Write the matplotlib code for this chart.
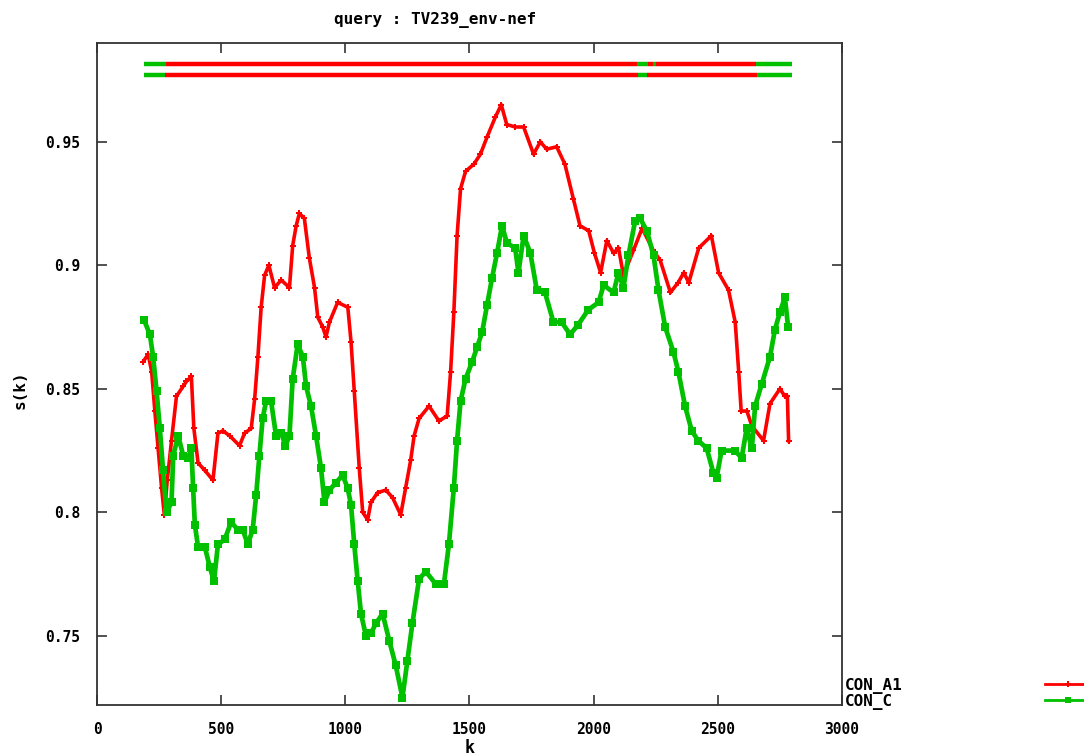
import numpy as np
import matplotlib
matplotlib.use('Agg')
import matplotlib.pyplot as plt
from matplotlib.lines import Line2D

# CON_A1 (red)
k_a1 = [186, 206, 220, 233, 246, 260, 271, 283, 300, 320, 347, 360, 380, 390, 407, 434, 467, 487,
        507, 534, 574, 594, 621, 635, 648, 661, 675, 692, 715, 742, 775, 788, 802, 815, 835, 855,
        876, 889, 909, 922, 936, 969, 1010, 1023, 1036, 1056, 1070, 1090, 1103, 1130, 1163, 1190,
        1223, 1243, 1263, 1277, 1297, 1337, 1377, 1410, 1424, 1437, 1450, 1464, 1484, 1518, 1544,
        1571, 1604, 1628, 1650, 1684, 1718, 1758, 1785, 1811, 1851, 1884, 1918, 1945, 1980, 2003,
        2028, 2053, 2080, 2100, 2120, 2160, 2195, 2240, 2268, 2309, 2340, 2363, 2383, 2423, 2474,
        2503, 2543, 2570, 2584, 2594, 2617, 2637, 2684, 2710, 2750, 2770, 2780, 2785]
s_a1 = [0.861, 0.864, 0.857, 0.841, 0.826, 0.810, 0.799, 0.813, 0.829, 0.847, 0.851, 0.853, 0.855,
        0.834, 0.820, 0.817, 0.813, 0.832, 0.833, 0.831, 0.827, 0.832, 0.834, 0.846, 0.863, 0.883,
        0.896, 0.900, 0.891, 0.894, 0.891, 0.908, 0.916, 0.921, 0.919, 0.903, 0.891, 0.879, 0.875,
        0.871, 0.877, 0.885, 0.883, 0.869, 0.849, 0.818, 0.800, 0.797, 0.804, 0.808, 0.809, 0.806,
        0.799, 0.810, 0.821, 0.831, 0.838, 0.843, 0.837, 0.839, 0.857, 0.881, 0.912, 0.931, 0.938,
        0.941, 0.945, 0.952, 0.960, 0.965, 0.957, 0.956, 0.956, 0.945, 0.950, 0.947, 0.948, 0.941,
        0.927, 0.916, 0.914, 0.905, 0.897, 0.910, 0.905, 0.907, 0.896, 0.906, 0.915, 0.906, 0.902,
        0.889, 0.893, 0.897, 0.893, 0.907, 0.912, 0.897, 0.890, 0.877, 0.857, 0.841, 0.841, 0.835,
        0.829, 0.844, 0.850, 0.847, 0.847, 0.829]

# CON_C (green)
k_c = [189, 213, 226, 240, 253, 266, 280, 300, 307, 327, 347, 367, 380, 387, 394, 407, 434, 454,
       471, 487, 514, 540, 567, 587, 607, 627, 641, 654, 667, 681, 701, 721, 742, 759, 775, 788,
       808, 829, 842, 862, 882, 902, 916, 936, 962, 989, 1009, 1023, 1036, 1050, 1063, 1083, 1103,
       1123, 1150, 1177, 1203, 1230, 1250, 1270, 1297, 1324, 1364, 1397, 1417, 1437, 1450, 1464,
       1484, 1511, 1531, 1551, 1571, 1591, 1611, 1631, 1651, 1684, 1697, 1718, 1745, 1771, 1804,
       1838, 1871, 1905, 1938, 1978, 2020, 2040, 2080, 2100, 2120, 2140, 2167, 2187, 2214, 2241,
       2261, 2288, 2321, 2341, 2368, 2395, 2421, 2455, 2482, 2495, 2515, 2569, 2596, 2616, 2637,
       2650, 2677, 2710, 2730, 2750, 2770, 2783]
s_c = [0.878, 0.872, 0.863, 0.849, 0.834, 0.817, 0.800, 0.804, 0.823, 0.831, 0.823, 0.822, 0.826,
       0.810, 0.795, 0.786, 0.786, 0.778, 0.772, 0.787, 0.789, 0.796, 0.793, 0.793, 0.787, 0.793,
       0.807, 0.823, 0.838, 0.845, 0.845, 0.831, 0.832, 0.827, 0.831, 0.854, 0.868, 0.863, 0.851,
       0.843, 0.831, 0.818, 0.804, 0.809, 0.812, 0.815, 0.810, 0.803, 0.787, 0.772, 0.759, 0.750,
       0.751, 0.755, 0.759, 0.748, 0.738, 0.725, 0.740, 0.755, 0.773, 0.776, 0.771, 0.771, 0.787,
       0.810, 0.829, 0.845, 0.854, 0.861, 0.867, 0.873, 0.884, 0.895, 0.905, 0.916, 0.909, 0.907,
       0.897, 0.912, 0.905, 0.890, 0.889, 0.877, 0.877, 0.872, 0.876, 0.882, 0.885, 0.892, 0.889,
       0.897, 0.891, 0.904, 0.918, 0.919, 0.914, 0.904, 0.890, 0.875, 0.865, 0.857, 0.843, 0.833,
       0.829, 0.826, 0.816, 0.814, 0.825, 0.825, 0.822, 0.834, 0.826, 0.843, 0.852, 0.863, 0.874,
       0.881, 0.887, 0.875]

# subtype bars above the curves
bar_levels = [0.9816, 0.9771]
bar1_edges = [189, 277, 2173, 2217, 2237, 2249, 2655, 2799]
bar1_cols = ['g', 'r', 'g', 'r', 'g', 'r', 'g']
bar2_edges = [189, 273, 2177, 2213, 2659, 2799]
bar2_cols = ['g', 'r', 'g', 'r', 'g']

xticks = [0, 500, 1000, 1500, 2000, 2500, 3000]
yticks = [0.75, 0.8, 0.85, 0.9, 0.95]
ytick_labels = ['0.75', '0.8', '0.85', '0.9', '0.95']

RED = '#ff0000'
GREEN = '#00c000'
colmap = {'r': RED, 'g': GREEN}
font = {'family': 'DejaVu Sans Mono', 'weight': 'bold', 'size': 10.5}
bigfont = {'family': 'DejaVu Sans Mono', 'weight': 'bold', 'size': 11.5}

fig = plt.figure(figsize=(10.84, 7.56), dpi=100)
ax = fig.add_axes([97/1084, 1-705/756, (842-97)/1084, (705-43)/756])

ax.plot(k_a1, s_a1, color=RED, lw=2.6, marker='P', ms=5, mew=0, clip_on=False)
ax.plot(k_c, s_c, color=GREEN, lw=3.4, marker='s', ms=5.5, mew=0, clip_on=False)

for lev, edges, cols in [(bar_levels[0], bar1_edges, bar1_cols), (bar_levels[1], bar2_edges, bar2_cols)]:
    for i in range(len(cols)):
        ax.hlines(lev, edges[i], edges[i+1], color=colmap[cols[i]], lw=3.2, capstyle='butt')

ax.set_xlim(0, 3000)
ax.set_ylim(0.722, 0.990)
ax.set_xticks(xticks)
ax.set_xticklabels([str(x) for x in xticks], fontdict=font)
ax.set_yticks(yticks)
ax.set_yticklabels(ytick_labels, fontdict=font)
ax.tick_params(direction='in', length=7, width=1.2, top=True, right=True, pad=12, color='#333333')
for sp in ax.spines.values():
    sp.set_linewidth(1.3)
    sp.set_color('#333333')

ax.set_xlabel('k', fontdict={'family': 'DejaVu Sans Mono', 'weight': 'bold', 'size': 12}, labelpad=2)
fig.text(20/1084, 1-390/756, 's(k)', rotation=90, ha='center', va='center', **bigfont)
fig.text(435/1084, 1-20/756, 'query : TV239_env-nef', ha='center', va='center', **bigfont)

# key, outside the frame at lower right
fig.text(845/1084, 1-686/756, 'CON_A1', ha='left', va='center', **bigfont)
fig.text(845/1084, 1-702/756, 'CON_C', ha='left', va='center', **bigfont)
fig.add_artist(Line2D([1045/1084, 1090/1084], [1-684/756]*2, color=RED, lw=2, transform=fig.transFigure))
fig.add_artist(Line2D([1068/1084], [1-684/756], color=RED, marker='P', ms=5, mew=0, transform=fig.transFigure))
fig.add_artist(Line2D([1045/1084, 1090/1084], [1-700/756]*2, color=GREEN, lw=2, transform=fig.transFigure))
fig.add_artist(Line2D([1068/1084], [1-700/756], color=GREEN, marker='s', ms=5, mew=0, transform=fig.transFigure))

fig.savefig('out.png', dpi=100)
